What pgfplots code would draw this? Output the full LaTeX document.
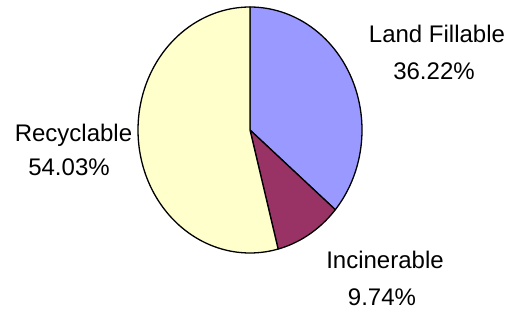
\documentclass[border=0pt]{standalone}
\usepackage{pgfplots}
\pgfplotsset{compat=1.18}
\usepackage{fontspec}
\setmainfont{Liberation Sans}
\definecolor{landc}{HTML}{9999FF}
\definecolor{incc}{HTML}{993366}
\definecolor{recc}{HTML}{FFFFCC}
% slice values (percent)
\def\vLand{36.22}
\def\vInc{9.74}
\def\vRec{54.03}
\begin{document}
\begin{tikzpicture}
\pgfmathsetmacro{\aA}{90}
\pgfmathsetmacro{\aB}{90-3.6*\vLand}
\pgfmathsetmacro{\aC}{\aB-3.6*\vInc}
\pgfmathsetmacro{\aD}{\aC-3.6*\vRec}
\begin{axis}[
  width=512pt, height=315pt, scale only axis,
  xmin=0, xmax=512, ymin=0, ymax=315, y dir=reverse,
  hide axis, clip=false,
]
\addplot[fill=landc, draw=black, line width=1.3pt, line join=round, domain=\aA:\aB, samples=80, variable=\t]
  ({250+112*cos(\t)}, {130-123*sin(\t)}) -- (axis cs:250,130) -- cycle;
\addplot[fill=incc, draw=black, line width=1.3pt, line join=round, domain=\aB:\aC, samples=40, variable=\t]
  ({250+112*cos(\t)}, {130-123*sin(\t)}) -- (axis cs:250,130) -- cycle;
\addplot[fill=recc, draw=black, line width=1.3pt, line join=round, domain=\aC:-270, samples=120, variable=\t]
  ({250+112*cos(\t)}, {130-123*sin(\t)}) -- (axis cs:250,130) -- cycle;
\begin{scope}[every node/.style={font=\fontsize{24}{28}\selectfont, anchor=base, inner sep=0pt}]
\node at (axis cs:437,43) {Land Fillable};
\node at (axis cs:434,80) {36.22\%};
\node at (axis cs:73.5,142) {Recyclable};
\node at (axis cs:69,176) {54.03\%};
\node at (axis cs:385,269) {Incinerable};
\node at (axis cs:382,306) {9.74\%};
\end{scope}
\end{axis}
\pgfresetboundingbox
\useasboundingbox (current axis.south west) rectangle (current axis.north east);
\end{tikzpicture}
\end{document}
